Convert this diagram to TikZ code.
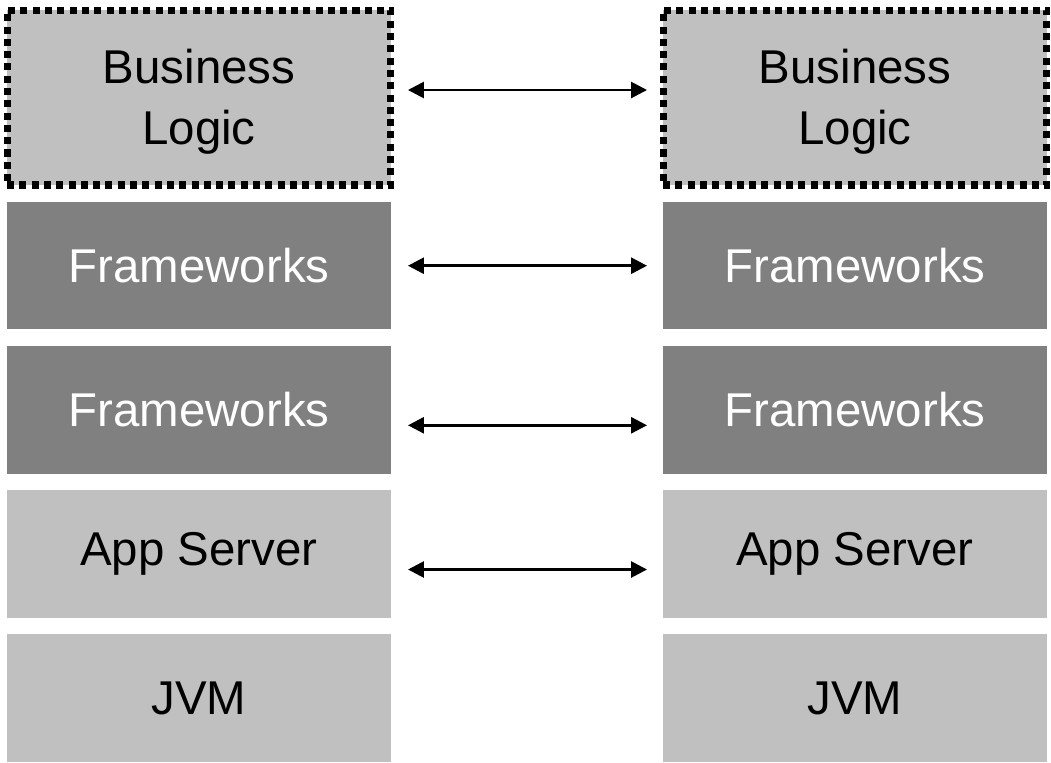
\documentclass[tikz,border=0pt]{standalone}
\usepackage{fontspec}
\setmainfont{Liberation Sans}
\usepackage{xcolor}
\usetikzlibrary{arrows.meta}

\definecolor{lightlayer}{HTML}{C0C0C0}
\definecolor{darklayer}{HTML}{808080}

\begin{document}
\begin{tikzpicture}[x=0.02cm,y=-0.02cm,
  font=\fontsize{27}{35}\selectfont,
  layer/.style={fill=lightlayer, minimum width=7.68cm, minimum height=2.55cm,
    inner sep=0pt, outer sep=0pt, align=center},
  darkbox/.style={layer, fill=darklayer, text=white},
  bizbox/.style={layer, minimum height=3.5cm, draw=black, line width=4pt,
    dash pattern=on 4pt off 3pt},
  link/.style={{Triangle[length=9pt,width=9pt]}-{Triangle[length=9pt,width=9pt]},
    line width=1.5pt}]
  \useasboundingbox (0,0) rectangle (1051,762);
  % left stack
  \node[bizbox] (bizL) at (199,97.5) {\rule{0pt}{24.5pt}Business\\Logic};
  \node[darkbox] (fwaL) at (199,265.7) {Frameworks};
  \node[darkbox] (fwbL) at (199,409.8) {Frameworks};
  \node[layer] (appL) at (199,554) {App Server};
  \node[layer] (jvmL) at (199,698) {JVM};
  % right stack
  \node[bizbox] (bizR) at (855,97.5) {\rule{0pt}{24.5pt}Business\\Logic};
  \node[darkbox] (fwaR) at (855,265.7) {Frameworks};
  \node[darkbox] (fwbR) at (855,409.8) {Frameworks};
  \node[layer] (appR) at (855,554) {App Server};
  \node[layer] (jvmR) at (855,698) {JVM};
  % links
  \draw[link] ([xshift=0.34cm,yshift=0.15cm]bizL.east) -- ([xshift=-0.32cm,yshift=0.15cm]bizR.west);
  \draw[link] ([xshift=0.34cm]fwaL.east) -- ([xshift=-0.32cm]fwaR.west);
  \draw[link] ([xshift=0.34cm,yshift=-0.31cm]fwbL.east) -- ([xshift=-0.32cm,yshift=-0.31cm]fwbR.west);
  \draw[link] ([xshift=0.34cm,yshift=-0.31cm]appL.east) -- ([xshift=-0.32cm,yshift=-0.31cm]appR.west);
\end{tikzpicture}
\end{document}
